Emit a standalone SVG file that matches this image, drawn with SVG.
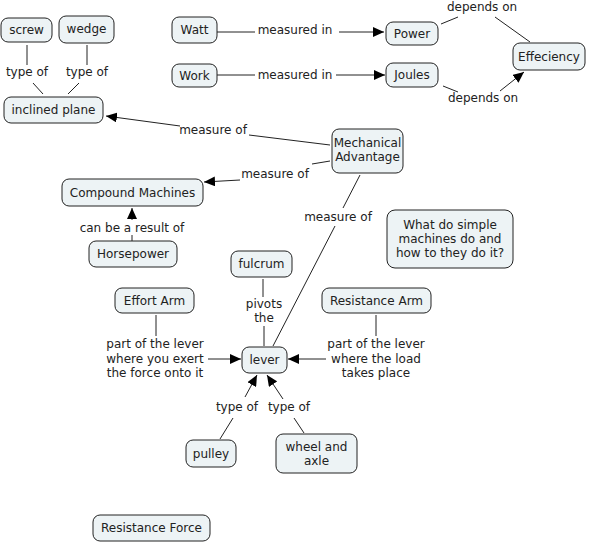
<svg xmlns="http://www.w3.org/2000/svg" width="593" height="542" viewBox="0 0 593 542">
<defs>
<marker id="arr" viewBox="0 0 11 10" refX="11" refY="5" markerWidth="11" markerHeight="10" markerUnits="userSpaceOnUse" orient="auto">
<path d="M0,0 L11,5 L0,10 z" fill="#000"/>
</marker>
<style>
.n rect{fill:#edf3f5;stroke:#222;stroke-width:1}
text{font-family:"DejaVu Sans",Verdana,sans-serif;font-size:12px;fill:#222;text-anchor:middle}
.c line,.c polyline{stroke:#222;stroke-width:1;fill:none}
.a{marker-end:url(#arr)}
</style>
</defs>
<rect width="593" height="542" fill="#fff"/>
<g class="c" id="connectors">
<line x1="27" y1="45" x2="27" y2="65"/>
<line x1="33" y1="83" x2="43" y2="94"/>
<line x1="87" y1="45" x2="87" y2="65"/>
<line x1="79" y1="83" x2="68" y2="94"/>
<line x1="217" y1="32" x2="255" y2="32"/>
<line class="a" x1="339" y1="32" x2="384" y2="32"/>
<line x1="217" y1="75" x2="255" y2="75"/>
<line class="a" x1="336" y1="75" x2="385" y2="75"/>
<line x1="441" y1="24" x2="458" y2="17"/>
<line x1="495" y1="17" x2="530" y2="42"/>
<line x1="443" y1="86" x2="458" y2="92"/>
<line class="a" x1="500" y1="91" x2="524" y2="72"/>
<line x1="249" y1="135" x2="330" y2="145"/>
<line class="a" x1="180" y1="126" x2="106" y2="116"/>
<line x1="330" y1="161" x2="312" y2="164"/>
<line class="a" x1="240" y1="180" x2="204" y2="182"/>
<line x1="360" y1="175" x2="343" y2="208"/>
<line x1="335" y1="226" x2="273" y2="346"/>
<line x1="132" y1="241" x2="132" y2="235"/>
<line class="a" x1="132" y1="220" x2="132" y2="208"/>
<line x1="263" y1="279" x2="263" y2="297"/>
<line x1="264" y1="326" x2="264" y2="346"/>
<line x1="156" y1="315" x2="156" y2="336"/>
<line class="a" x1="208" y1="359" x2="241" y2="359"/>
<line x1="376" y1="315" x2="376" y2="336"/>
<line class="a" x1="326" y1="359" x2="288" y2="359"/>
<line x1="220" y1="439" x2="233" y2="418"/>
<line class="a" x1="245" y1="397" x2="257" y2="375"/>
<line x1="304" y1="433" x2="294" y2="418"/>
<line class="a" x1="283" y1="399" x2="267" y2="375"/>
</g>
<g id="labels">
<text x="27" y="76">type of</text>
<text x="87" y="76">type of</text>
<text x="295" y="34">measured in</text>
<text x="295" y="79">measured in</text>
<text x="482" y="11">depends on</text>
<text x="483" y="102">depends on</text>
<text x="213" y="134">measure of</text>
<text x="275" y="178">measure of</text>
<text x="338" y="221">measure of</text>
<text x="132" y="232">can be a result of</text>
<text x="264" y="308">pivots</text>
<text x="264" y="322">the</text>
<text x="155" y="348">part of the lever</text>
<text x="155" y="363">where you exert</text>
<text x="155" y="377">the force onto it</text>
<text x="376" y="348">part of the lever</text>
<text x="376" y="363">where the load</text>
<text x="376" y="377">takes place</text>
<text x="237" y="411">type of</text>
<text x="289" y="411">type of</text>
</g>
<g class="n" id="screw"><rect x="1" y="18" width="51" height="24" rx="7"/><text x="26.5" y="34">screw</text></g>
<g class="n" id="wedge"><rect x="59" y="16" width="55" height="27" rx="7"/><text x="86.5" y="33">wedge</text></g>
<g class="n" id="inclined-plane"><rect x="4" y="97" width="99" height="26" rx="7"/><text x="53.5" y="114">inclined plane</text></g>
<g class="n" id="watt"><rect x="172" y="17" width="45" height="26" rx="7"/><text x="194.5" y="34">Watt</text></g>
<g class="n" id="power"><rect x="386" y="22" width="52" height="23" rx="7"/><text x="412" y="37.5">Power</text></g>
<g class="n" id="work"><rect x="172" y="64" width="45" height="23" rx="7"/><text x="194.5" y="79.5">Work</text></g>
<g class="n" id="joules"><rect x="386" y="63" width="52" height="24" rx="7"/><text x="412" y="79">Joules</text></g>
<g class="n" id="effeciency"><rect x="513" y="43" width="72" height="27" rx="7"/><text x="549" y="60.5">Effeciency</text></g>
<g class="n" id="mechanical-advantage"><rect x="332" y="129" width="71" height="44" rx="7"/><text x="367.5" y="147">Mechanical</text><text x="367.5" y="161">Advantage</text></g>
<g class="n" id="compound-machines"><rect x="62" y="179" width="141" height="27" rx="7"/><text x="132.5" y="196.5">Compound Machines</text></g>
<g class="n" id="horsepower"><rect x="89" y="241" width="88" height="26" rx="7"/><text x="133" y="258">Horsepower</text></g>
<g class="n" id="fulcrum"><rect x="231" y="251" width="61" height="26" rx="7"/><text x="261.5" y="268">fulcrum</text></g>
<g class="n" id="question"><rect x="387" y="210" width="126" height="58" rx="8"/><text x="450" y="229">What do simple</text><text x="450" y="243">machines do and</text><text x="450" y="257">how to they do it?</text></g>
<g class="n" id="effort-arm"><rect x="115" y="288" width="79" height="25" rx="7"/><text x="154.5" y="304.5">Effort Arm</text></g>
<g class="n" id="resistance-arm"><rect x="322" y="288" width="109" height="25" rx="7"/><text x="376.5" y="304.5">Resistance Arm</text></g>
<g class="n" id="lever"><rect x="242" y="347" width="45" height="26" rx="7"/><text x="264.5" y="364">lever</text></g>
<g class="n" id="pulley"><rect x="186" y="440" width="50" height="27" rx="7"/><text x="211" y="457.5">pulley</text></g>
<g class="n" id="wheel-and-axle"><rect x="276" y="434" width="81" height="39" rx="7"/><text x="316.5" y="451">wheel and</text><text x="316.5" y="465">axle</text></g>
<g class="n" id="resistance-force"><rect x="93" y="515" width="117" height="26" rx="7"/><text x="151.5" y="532">Resistance Force</text></g>
</svg>
